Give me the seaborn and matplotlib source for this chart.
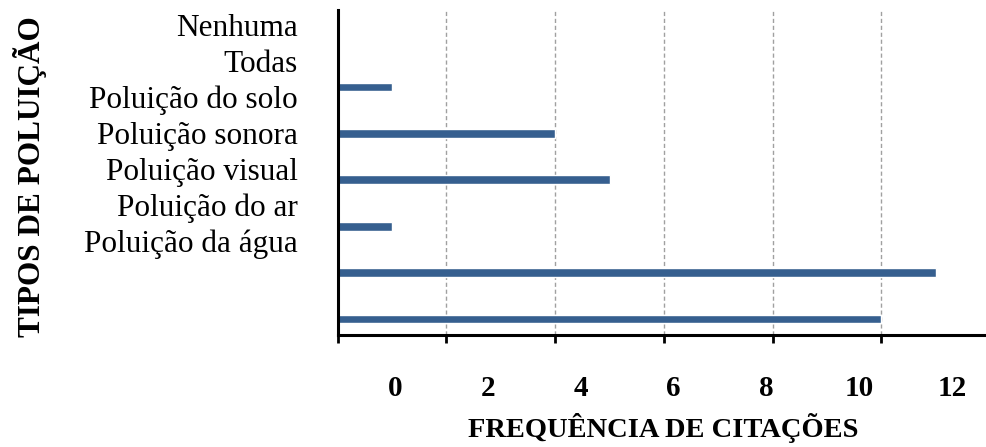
import seaborn as sns
import matplotlib.pyplot as plt

categorias = ["Nenhuma", "Todas", "Poluição do solo", "Poluição sonora",
              "Poluição visual", "Poluição do ar", "Poluição da água"]
citacoes = [0, 1, 4, 5, 1, 11, 10]
xticks = [0, 2, 4, 6, 8, 10, 12]

sns.set_theme(style="white")
plt.rcParams["font.family"] = ["Liberation Serif", "DejaVu Serif"]
plt.rcParams["text.color"] = "black"

W, H = 986, 447
fig = plt.figure(figsize=(W / 100, H / 100), dpi=100)
# area do grafico em pixels: esquerda 337.5, topo 10, base 335
ax = fig.add_axes([337.5 / W, 1 - 335 / H, (W - 337.5) / W, (335 - 10) / H])

sns.barplot(x=citacoes, y=categorias, orient="h", color="#365f8f",
            width=0.19, saturation=1, ax=ax)

ax.set_xlim(0, (W - 337.5) / 54.4)
ax.set_ylim(6.345, -0.66)
ax.set_xticks(xticks[:-1])
ax.xaxis.grid(True, linestyle=(0, (3, 2)), color="#a0a0a0", linewidth=1)
ax.set_axisbelow(True)
ax.tick_params(axis="x", bottom=True, direction="out", length=6, width=2,
               color="black", labelbottom=False)
ax.tick_params(axis="y", left=False, labelleft=False)
ax.set_xlabel("")
ax.set_ylabel("")
for s in ["top", "right"]:
    ax.spines[s].set_visible(False)
for s in ["left", "bottom"]:
    ax.spines[s].set_color("black")
    ax.spines[s].set_linewidth(2.2)

# rotulos deslocados como no original
for i, c in enumerate(categorias):
    fig.text(298 / W, 1 - (29 + 35.8 * i) / H, c, ha="right", va="center",
             fontsize=22.5)
for v in xticks:
    fig.text((395 + 46.4 * v) / W, 1 - 388 / H, str(v), ha="center",
             va="center", fontsize=21, fontweight="bold")

fig.text(663 / W, 1 - 428 / H, "FREQUÊNCIA DE CITAÇÕES", ha="center",
         va="center", fontsize=20.5, fontweight="bold")
fig.text(30 / W, 1 - 177 / H, "TIPOS DE POLUIÇÃO", ha="center", va="center",
         rotation=90, fontsize=22.5, fontweight="bold")

fig.savefig("out.png", dpi=100)
